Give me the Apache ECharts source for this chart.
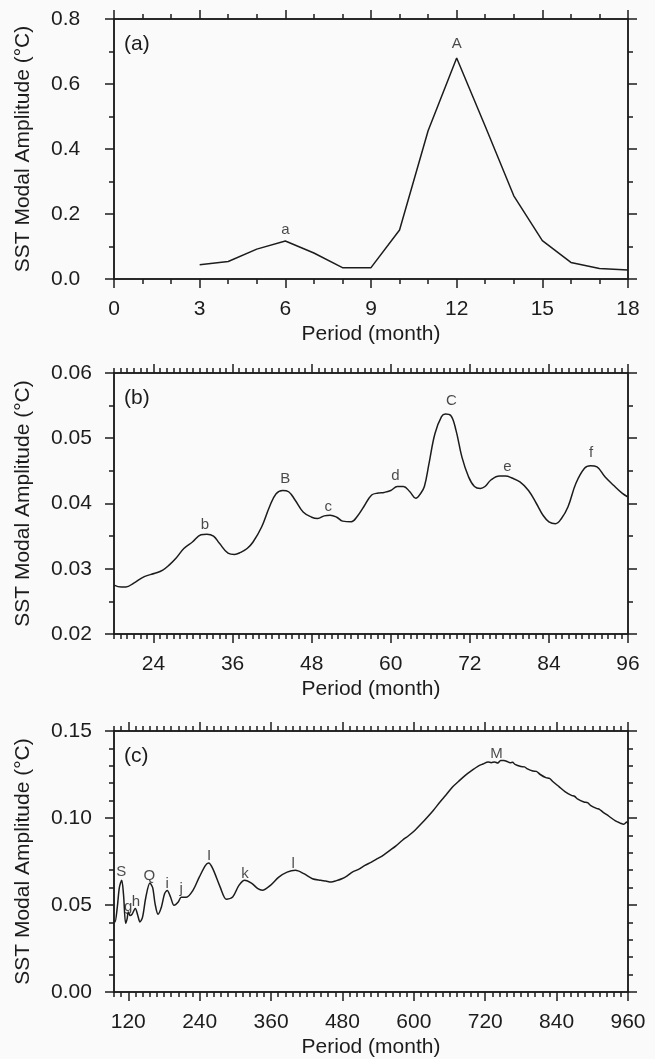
<!DOCTYPE html>
<html>
<head>
<meta charset="utf-8">
<script src="https://cdn.jsdelivr.net/npm/echarts@6/dist/echarts.min.js"></script>
<style>
  html, body { margin: 0; padding: 0; background: #fafafa; }
  #chart { width: 655px; height: 1059px; }
</style>
</head>
<body>
<div id="chart"></div>
<script>
// ---- Panel (a): short periods ----
const periodA = [3, 4, 5, 6, 7, 8, 9, 10, 11, 12, 13, 14, 15, 16, 17, 18];
const ampA = [0.044, 0.054, 0.092, 0.117, 0.080, 0.035, 0.035, 0.151, 0.456, 0.680,
              0.470, 0.256, 0.118, 0.051, 0.032, 0.028];
const peaksA = [['a', 6, 0.152], ['A', 12, 0.722]];
const xTicksA = [0, 3, 6, 9, 12, 15, 18];
const yTicksA = [0, 0.2, 0.4, 0.6, 0.8];

// ---- Panel (b): interannual periods ----
const periodB = [18, 19.1, 19.8, 21, 22.6, 24.2, 25.4, 26.4, 27.4, 28.6, 29.9, 31.2, 32.1, 33.1, 34,
  35.3, 36.3, 37.2, 38.2, 39.1, 40.4, 41.6, 42.6, 43.6, 44.5, 45.5, 46.7, 48, 48.9, 49.9,
  50.8, 51.8, 52.7, 54, 54.9, 55.9, 57.1, 58.1, 59, 60, 61, 61.9, 62.9, 63.8, 64.5,
  65.1, 65.8, 66.7, 67.7, 68.3, 69.1, 69.9, 70.8, 71.8, 72.7, 73.6, 74.3, 75.2, 76.5, 77.4,
  78.4, 79.6, 80.9, 82.1, 83.1, 84, 85, 85.9, 86.9, 88.1, 89.4, 90.3, 91.3, 92.5, 93.8, 95.1, 96];
const ampB = [0.0275, 0.0272, 0.0272, 0.0278, 0.0288, 0.0293, 0.0298, 0.0306, 0.0316, 0.0331, 0.0341, 0.0352, 0.0353, 0.0350, 0.0339,
  0.0324, 0.0322, 0.0325, 0.0331, 0.0341, 0.0364, 0.0395, 0.0415, 0.0420, 0.0418, 0.0405, 0.0387, 0.0379, 0.0377, 0.0381,
  0.0382, 0.0379, 0.0373, 0.0372, 0.0380, 0.0395, 0.0413, 0.0416, 0.0417, 0.0420, 0.0426, 0.0426, 0.0418, 0.0408, 0.0415,
  0.0426, 0.0461, 0.0507, 0.0533, 0.0537, 0.0535, 0.0512, 0.0471, 0.0441, 0.0426, 0.0423, 0.0426, 0.0436, 0.0442, 0.0442,
  0.0439, 0.0433, 0.0420, 0.0400, 0.0382, 0.0372, 0.0369, 0.0377, 0.0395, 0.0431, 0.0454, 0.0458, 0.0456, 0.0441, 0.0428, 0.0416, 0.0410];
const peaksB = [['b', 31.8, 0.0367], ['B', 44, 0.0438], ['c', 50.5, 0.0395], ['d', 60.7, 0.0443],
                ['C', 69.2, 0.0557], ['e', 77.7, 0.0456], ['f', 90.4, 0.0477]];
const xTicksB = [24, 36, 48, 60, 72, 84, 96];
const yTicksB = [0.02, 0.03, 0.04, 0.05, 0.06];

// ---- Panel (c): decadal periods ----
const periodC = [96, 97.7, 101.6, 105, 109, 112, 115.6, 118, 120, 123, 126, 131.8, 136, 139.6, 144, 149.6, 156.4, 161,
  165, 170, 175.7, 181, 185.5, 191, 197, 204, 209, 217.7, 228.7, 239.3, 249.8, 255, 262, 274.5, 285, 295.5,
  306, 315.8, 327, 337.8, 345.4, 359, 373, 387, 401, 415, 429.5, 443.5, 452, 461, 470, 479, 488, 496.6, 507, 517.7,
  528, 538.7, 549, 559.8, 570, 580.9, 591, 602, 612, 623, 633, 644, 654, 665, 675, 686.5, 697, 707.6, 716, 725,
  730, 735.7, 741, 746, 751, 755.8, 762, 766, 770, 780, 786, 791, 800, 806, 812.5, 822, 828, 833.5, 844, 854.6,
  865, 870, 875.7, 886, 892, 896.8, 907, 912, 917.8, 928, 938.9, 946, 953, 958, 960];
const ampC = [0.0412, 0.0402, 0.0489, 0.0600, 0.0642, 0.0560, 0.0395, 0.0420, 0.0460, 0.0440, 0.0445, 0.0480, 0.0440, 0.0403, 0.0430, 0.0546, 0.0626, 0.0600,
  0.0508, 0.0447, 0.0489, 0.0565, 0.0584, 0.0546, 0.0498, 0.0517, 0.0545, 0.0545, 0.0584, 0.0660, 0.0728, 0.0741, 0.0709, 0.0603, 0.0533, 0.0546,
  0.0613, 0.0642, 0.0626, 0.0594, 0.0585, 0.0613, 0.0660, 0.0689, 0.0699, 0.0680, 0.0651, 0.0642, 0.0638, 0.0632, 0.0640, 0.0651, 0.0668, 0.0689, 0.0705, 0.0728,
  0.0745, 0.0766, 0.0787, 0.0814, 0.0840, 0.0872, 0.0898, 0.0930, 0.0965, 0.1006, 0.1045, 0.1092, 0.1132, 0.1178, 0.1210, 0.1245, 0.1272, 0.1297, 0.1310, 0.1322,
  0.1318, 0.1322, 0.1316, 0.1331, 0.1330, 0.1326, 0.1318, 0.1320, 0.1308, 0.1296, 0.1294, 0.1282, 0.1270, 0.1268, 0.1250, 0.1232, 0.1228, 0.1210, 0.1180, 0.1150,
  0.1130, 0.1125, 0.1108, 0.1092, 0.1088, 0.1073, 0.1055, 0.1050, 0.1034, 0.1010, 0.0983, 0.0972, 0.0964, 0.0977, 0.0967];
const peaksC = [['S', 108, 0.069], ['g', 120, 0.0489], ['h', 132.7, 0.0517], ['Q', 155.5, 0.067], ['i', 185.5, 0.0623],
                ['j', 209, 0.0594], ['I', 256, 0.0785], ['k', 316, 0.068], ['l', 397, 0.0738], ['M', 739, 0.137]];
const xTicksC = [120, 240, 360, 480, 600, 720, 840, 960];
const yTicksC = [0, 0.05, 0.10, 0.15];

const INK = '#1c1c1c';
const FONT = 'Liberation Sans';
const Y_TITLE = 'SST Modal Amplitude (°C)';
const X_TITLE = 'Period (month)';

function steps(min, max, step) {
  const out = [];
  for (let k = 0; min + k * step <= max + 1e-9; k++) out.push(+(min + k * step).toFixed(6));
  return out;
}
function pairs(xs, ys) { return xs.map((x, i) => [x, ys[i]]); }

const lineStyle = { color: INK, width: 1.5 };
const textStyle = { color: INK, fontFamily: FONT, fontSize: 21 };

function xAxesFor(g, min, max, majors, minors) {
  const base = { type: 'value', gridIndex: g, min, max, splitLine: { show: false },
                 axisLine: { onZero: false, lineStyle } };
  return [
    { ...base, position: 'bottom',
      axisTick: { customValues: majors, length: 9, lineStyle },
      axisLabel: { customValues: majors, margin: 20, ...textStyle },
      name: X_TITLE, nameLocation: 'middle', nameGap: 45, nameTextStyle: textStyle },
    { ...base, position: 'bottom', axisTick: { customValues: minors, length: 5, lineStyle }, axisLabel: { show: false } },
    { ...base, position: 'top', axisTick: { customValues: majors, length: 9, lineStyle }, axisLabel: { show: false } },
    { ...base, position: 'top', axisTick: { customValues: minors, length: 5, lineStyle }, axisLabel: { show: false } }
  ];
}
function yAxesFor(g, min, max, majors, minors, dec) {
  const base = { type: 'value', gridIndex: g, min, max, splitLine: { show: false },
                 axisLine: { onZero: false, lineStyle } };
  return [
    { ...base, position: 'left',
      axisTick: { customValues: majors, length: 9, lineStyle },
      axisLabel: { customValues: majors, align: 'left', margin: 63, ...textStyle,
                   formatter: v => v.toFixed(dec) },
      name: Y_TITLE, nameLocation: 'middle', nameGap: 80, nameTextStyle: textStyle },
    { ...base, position: 'left', axisTick: { customValues: minors, length: 5, lineStyle }, axisLabel: { show: false } },
    { ...base, position: 'right', axisTick: { customValues: majors, length: 9, lineStyle }, axisLabel: { show: false } },
    { ...base, position: 'right', axisTick: { customValues: minors, length: 5, lineStyle }, axisLabel: { show: false } }
  ];
}

function curve(g, xs, ys, smooth) {
  return { type: 'line', xAxisIndex: g * 4, yAxisIndex: g * 4, data: pairs(xs, ys),
           showSymbol: false, smooth, lineStyle: { color: INK, width: 1.5 }, z: 3 };
}
function peakLabels(g, peaks) {
  return { type: 'scatter', xAxisIndex: g * 4, yAxisIndex: g * 4, symbolSize: 0, silent: true,
           data: peaks.map(p => ({ name: p[0], value: [p[1], p[2]] })),
           label: { show: true, position: 'inside', formatter: '{b}', color: INK, fontFamily: FONT, fontSize: 15 }, z: 4 };
}

const grids = [
  { left: 114, width: 514, top: 19, height: 260 },
  { left: 114, width: 514, top: 373, height: 261 },
  { left: 114, width: 514, top: 731, height: 261 }
];

const panelTag = t => ({ text: t, fill: INK, font: '21px "Liberation Sans"' });

const option = {
  backgroundColor: '#fafafa',
  animation: false,
  grid: grids,
  xAxis: [
    ...xAxesFor(0, 0, 18, xTicksA, steps(0, 18, 1)),
    ...xAxesFor(1, 18, 96, xTicksB, steps(18, 96, 1)),
    ...xAxesFor(2, 96, 960, xTicksC, steps(96, 960, 12))
  ],
  yAxis: [
    ...yAxesFor(0, 0, 0.8, yTicksA, steps(0, 0.8, 0.1), 1),
    ...yAxesFor(1, 0.02, 0.06, yTicksB, steps(0.02, 0.06, 0.005), 2),
    ...yAxesFor(2, 0, 0.15, yTicksC, steps(0, 0.15, 0.01), 2)
  ],
  graphic: [
    { type: 'text', left: 124, top: 34, style: panelTag('(a)') },
    { type: 'text', left: 124, top: 388, style: panelTag('(b)') },
    { type: 'text', left: 124, top: 746, style: panelTag('(c)') }
  ],
  series: [
    curve(0, periodA, ampA, false),
    curve(1, periodB, ampB, 0.4),
    curve(2, periodC, ampC, 0.3),
    peakLabels(0, peaksA),
    peakLabels(1, peaksB),
    peakLabels(2, peaksC)
  ]
};

const chart = echarts.init(document.getElementById('chart'), null, { renderer: 'canvas' });
chart.setOption(option);
</script>
</body>
</html>
